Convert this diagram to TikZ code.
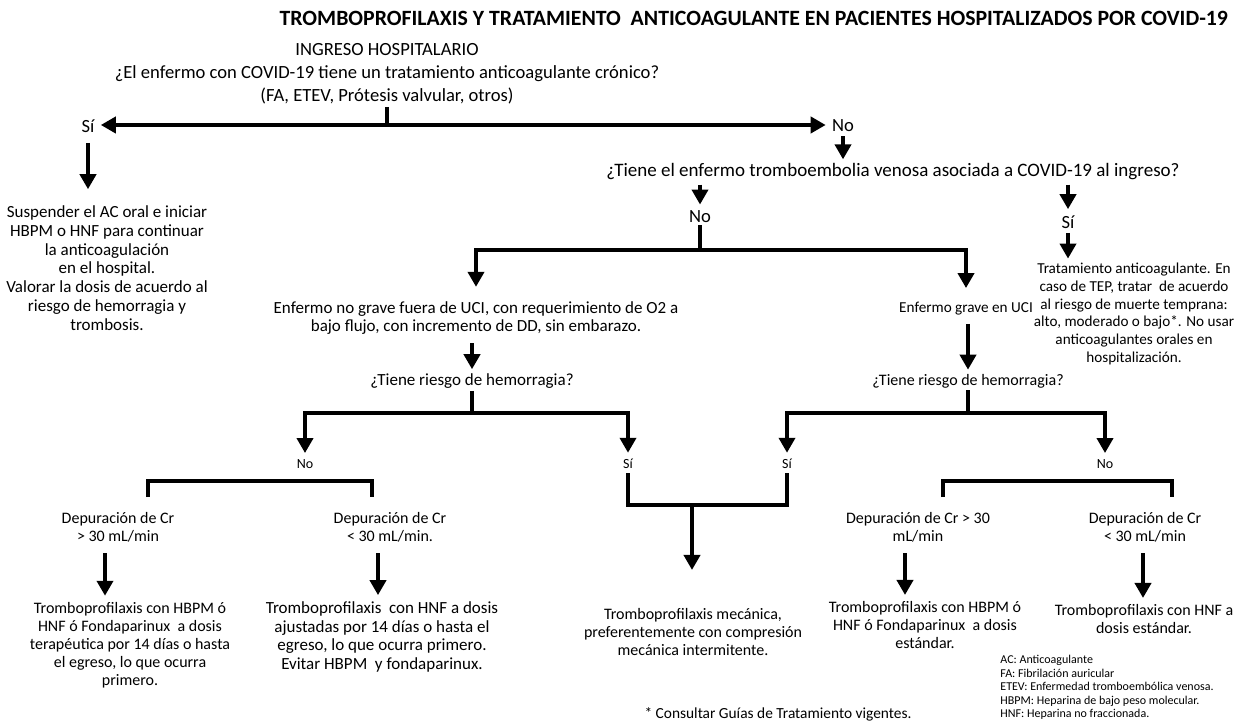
\documentclass[tikz,border=0pt]{standalone}
\usepackage{fontspec}
\setmainfont{Carlito}
\usetikzlibrary{arrows.meta}

\tikzset{
  arr/.style={line width=2.3pt, -{Triangle[width=8pt,length=7.5pt]}, shorten >=2pt},
  lin/.style={line width=2.3pt},
  big/.style={font=\fontsize{9.3}{11.6}\selectfont, align=center, inner sep=1pt},
  txt/.style={font=\fontsize{8}{9}\selectfont, align=center, inner sep=1pt},
  wide/.style={font=\fontsize{8.5}{9.4}\selectfont},
  narrow/.style={font=\fontsize{7.6}{8.9}\selectfont},
  lab/.style={font=\fontsize{7}{8}\selectfont, inner sep=1pt},
}

\begin{document}
\begin{tikzpicture}[x=0.5pt,y=-0.5pt]
    \useasboundingbox[fill=white] (0,0) rectangle (1245,726);

    % Title
    \node[anchor=east, font=\fontsize{10.9}{12}\selectfont\bfseries] (title) at (1235,18)
      {TROMBOPROFILAXIS Y TRATAMIENTO~ ANTICOAGULANTE EN PACIENTES HOSPITALIZADOS POR COVID-19};

    % Ingreso
    \node[big] (q1) at (387,74) {INGRESO HOSPITALARIO\\ ¿El enfermo con COVID-19 tiene un tratamiento anticoagulante crónico?\\ (FA, ETEV, Prótesis valvular, otros)};
    \node[big] (si1) at (88,126) {Sí};
    \node[big] (no1) at (843,126) {No};
    \coordinate (j1) at (387,125);
    \draw[lin] (q1.south) -- (j1);
    \draw[arr] (j1) -- (j1 -| si1.east);
    \draw[arr] (j1) -- (j1 -| no1.west);

    % Rama Si
    \node[txt, wide] (susp) at (107,268) {Suspender el AC oral e iniciar\\ HBPM o HNF para continuar\\ la anticoagulación\\ en el hospital.\\ Valorar la dosis de acuerdo al\\ riesgo de hemorragia y\\ trombosis.};
    \draw[arr, shorten <=4pt, shorten >=7pt] (si1.south) -- (si1.south |- susp.north);

    % Rama No
    \node[big, font=\fontsize{9.5}{11.6}\selectfont] (q2) at (893,172) {¿Tiene el enfermo tromboembolia venosa asociada a COVID-19 al ingreso?};
    \draw[arr, shorten <=1pt, shorten >=1pt] (no1.south) -- (no1.south |- q2.north);
    \node[big] (no2) at (700,217) {No};
    \node[big] (si2) at (1068,222) {Sí};
    \draw[arr, shorten <=1pt] (no2 |- q2.south) -- (no2.north);
    \draw[arr, shorten <=1pt] (si2 |- q2.south) -- (si2.north);
    \node[txt, narrow] (trat) at (1134,314) {Tratamiento anticoagulante. En\\ caso de TEP, tratar~ de acuerdo\\ al riesgo de muerte temprana:\\ alto, moderado o bajo*. No usar\\ anticoagulantes orales en\\ hospitalización.};
    \draw[arr, shorten <=1pt, shorten >=1pt] (si2.south) -- (si2.south |- trat.north);

    % No grave / grave
    \node[txt, wide] (nograve) at (476,318) {Enfermo no grave fuera de UCI, con requerimiento de O2 a\\ bajo flujo, con incremento de DD, sin embarazo.};
    \node[txt, narrow] (grave) at (966,309) {Enfermo grave en UCI};
    \coordinate (j2) at (700,250);
    \draw[lin] (no2.south) -- (j2);
    \draw[arr, shorten >=6pt] (j2) -| (nograve.north);
    \draw[arr, shorten >=6pt] (j2) -| (grave.north);

    % Riesgo de hemorragia
    \node[txt, wide] (q3a) at (472,381) {¿Tiene riesgo de hemorragia?};
    \node[txt] (q3b) at (968,381) {¿Tiene riesgo de hemorragia?};
    \draw[arr, shorten <=3pt, shorten >=1pt] (q3a |- nograve.south) -- (q3a.north);
    \draw[arr, shorten <=3pt, shorten >=1pt] (q3b |- grave.south) -- (q3b.north);
    \node[lab] (no3a) at (305,464) {No};
    \node[lab] (si3a) at (628,464) {Sí};
    \node[lab] (si3b) at (787,464) {Sí};
    \node[lab] (no3b) at (1105,464) {No};
    \coordinate (j3a) at (472,413);
    \coordinate (j3b) at (968,413);
    \draw[lin] (q3a.south) -- (j3a);
    \draw[lin] (q3b.south) -- (j3b);
    \draw[arr] (j3a) -| (no3a.north);
    \draw[arr] (j3a) -| (si3a.north);
    \draw[arr] (j3b) -| (si3b.north);
    \draw[arr] (j3b) -| (no3b.north);

    % Llaves bajo No
    \coordinate (b1) at (148,497);
    \coordinate (b2) at (372,497);
    \coordinate (b3) at (943,497);
    \coordinate (b4) at (1172,497);
    \draw[lin] (b1) -- ++(0,-16) -| (b2);
    \draw[lin] (b3) -- ++(0,-16) -| (b4);

    % Union de los Si
    \node[txt] (mech) at (693,632) {Tromboprofilaxis mecánica,\\ preferentemente con compresión\\ mecánica intermitente.};
    \coordinate (jm) at (692,505);
    \draw[lin, shorten <=1pt, shorten >=1pt] (si3a.south) |- (jm) -| (si3b.south);
    \draw[arr, shorten >=18pt] (jm) -- (jm |- mech.north);

    % Depuracion de Cr
    \node[txt] (dep1) at (118,527) {Depuración de Cr\\ > 30 mL/min};
    \node[txt] (dep2) at (390,527) {Depuración de Cr\\ < 30 mL/min.};
    \node[txt] (dep3) at (918,527) {Depuración de Cr > 30\\ mL/min};
    \node[txt] (dep4) at (1145,527) {Depuración de Cr\\ < 30 mL/min};

    % Tromboprofilaxis
    \node[txt] (res1) at (130,645) {Tromboprofilaxis con HBPM ó\\ HNF ó Fondaparinux~ a dosis\\ terapéutica por 14 días o hasta\\ el egreso, lo que ocurra\\ primero.};
    \node[txt, wide] (res2) at (382,637) {Tromboprofilaxis~ con HNF a dosis\\ ajustadas por 14 días o hasta el\\ egreso, lo que ocurra primero.\\ Evitar HBPM~ y fondaparinux.};
    \node[txt] (res3) at (925,625) {Tromboprofilaxis con HBPM ó\\ HNF ó Fondaparinux~ a dosis\\ estándar.};
    \node[txt] (res4) at (1144,619) {Tromboprofilaxis con HNF a\\ dosis estándar.};
    \coordinate (a1) at (105,553);
    \coordinate (a2) at (378,553);
    \coordinate (a3) at (905,553);
    \coordinate (a4) at (1143,553);
    \draw[arr] (a1) -- (a1 |- res1.north);
    \draw[arr] (a2) -- (a2 |- res2.north);
    \draw[arr] (a3) -- (a3 |- res3.north);
    \draw[arr] (a4) -- (a4 |- res4.north);

    % Notas
    \node[txt, font=\fontsize{7.7}{9}\selectfont] (foot) at (778,714) {* Consultar Guías de Tratamiento vigentes.};
    \node[anchor=north west, align=left, inner sep=0pt, font=\fontsize{6}{6.75}\selectfont] (leyenda) at (1000,655)
      {AC: Anticoagulante\\ FA: Fibrilación auricular\\ ETEV: Enfermedad tromboembólica venosa.\\ HBPM: Heparina de bajo peso molecular.\\ HNF: Heparina no fraccionada.};
\end{tikzpicture}
\end{document}
